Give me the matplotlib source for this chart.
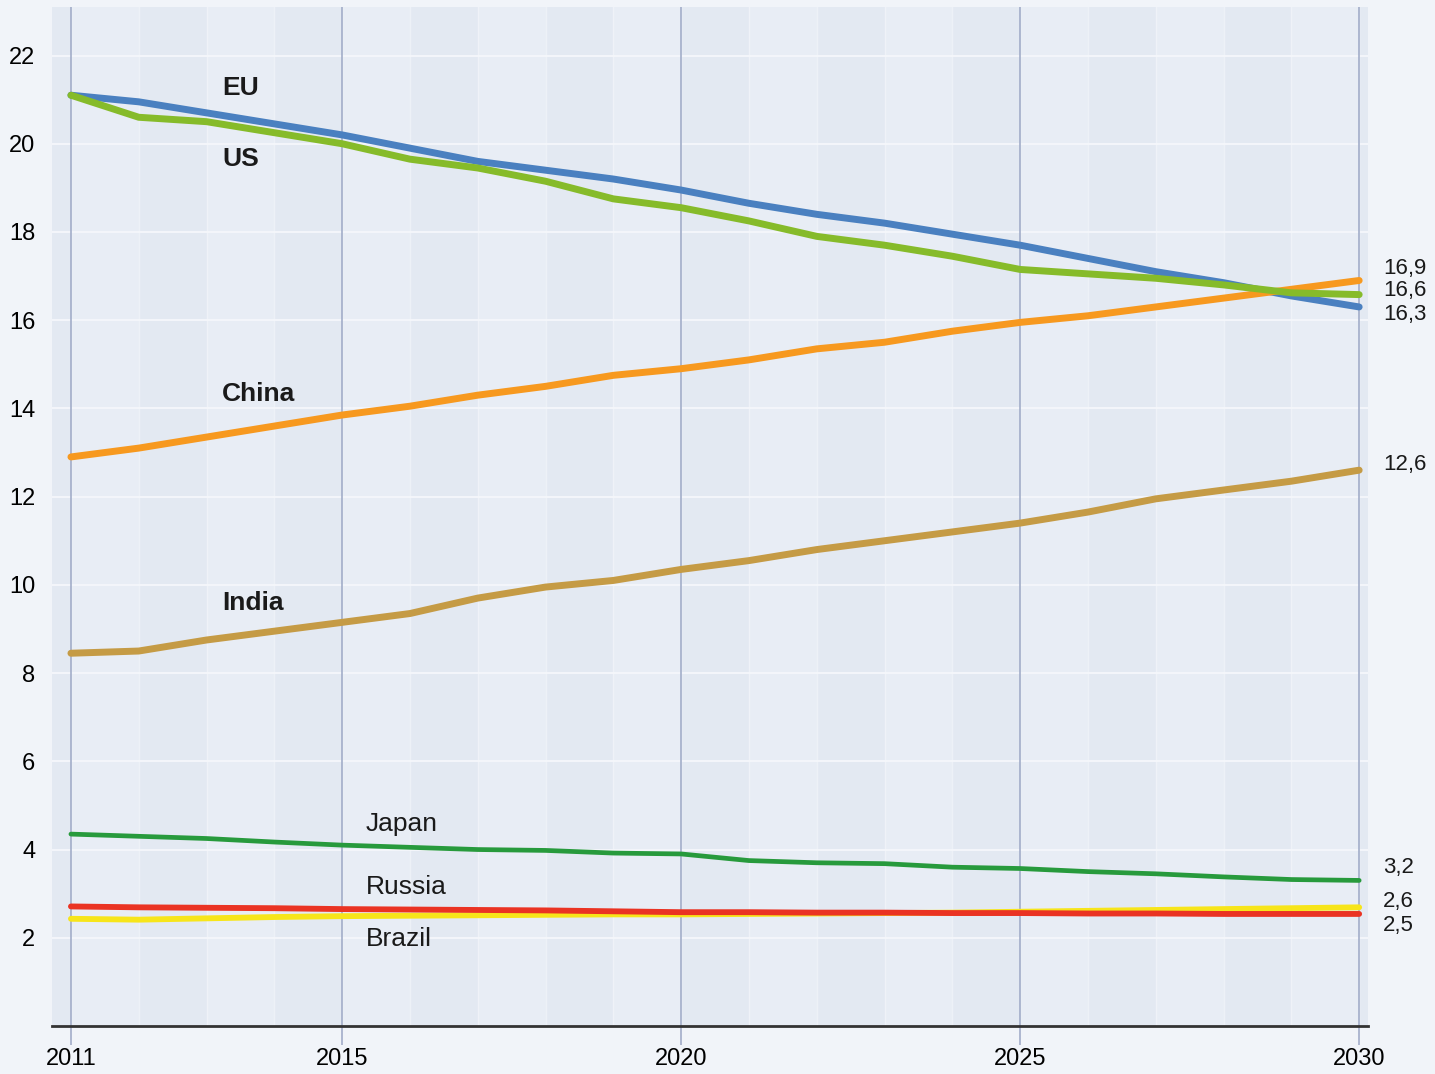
import numpy as np
import matplotlib.pyplot as plt

# Data
years = list(range(2011, 2031))
eu = [21.1, 20.95, 20.7, 20.45, 20.2, 19.9, 19.6, 19.4, 19.2, 18.95,
      18.65, 18.4, 18.2, 17.95, 17.7, 17.4, 17.1, 16.85, 16.55, 16.3]
us = [21.1, 20.6, 20.5, 20.25, 20.0, 19.65, 19.45, 19.15, 18.75, 18.55,
      18.25, 17.9, 17.7, 17.45, 17.15, 17.05, 16.95, 16.8, 16.62, 16.58]
china = [12.9, 13.1, 13.35, 13.6, 13.85, 14.05, 14.3, 14.5, 14.75, 14.9,
         15.1, 15.35, 15.5, 15.75, 15.95, 16.1, 16.3, 16.5, 16.7, 16.9]
india = [8.45, 8.5, 8.75, 8.95, 9.15, 9.35, 9.7, 9.95, 10.1, 10.35,
         10.55, 10.8, 11.0, 11.2, 11.4, 11.65, 11.95, 12.15, 12.35, 12.6]
japan = [4.35, 4.3, 4.25, 4.17, 4.1, 4.05, 4.0, 3.98, 3.92, 3.9,
         3.75, 3.7, 3.68, 3.6, 3.57, 3.5, 3.45, 3.38, 3.32, 3.3]
russia = [2.71, 2.69, 2.68, 2.67, 2.65, 2.64, 2.63, 2.62, 2.6, 2.58,
          2.58, 2.57, 2.57, 2.56, 2.56, 2.55, 2.55, 2.54, 2.54, 2.54]
brazil = [2.43, 2.41, 2.44, 2.47, 2.49, 2.5, 2.51, 2.52, 2.53, 2.53,
          2.54, 2.55, 2.56, 2.57, 2.59, 2.61, 2.63, 2.65, 2.67, 2.69]

end_labels = ['16,9', '16,6', '16,3', '12,6', '3,2', '2,6', '2,5']
end_label_y = [17.17, 16.67, 16.14, 12.72, 3.6, 2.83, 2.27]

xticks = [2011, 2015, 2020, 2025, 2030]
yticks = [2, 4, 6, 8, 10, 12, 14, 16, 18, 20, 22]

plt.rcParams['font.family'] = ['Liberation Sans', 'DejaVu Sans']

fig = plt.figure(figsize=(14.35, 10.74), dpi=100, facecolor='#f1f4f9')
ax = fig.add_axes([0.0362, 0.0447, 0.9171, 0.9488])
ax.set_facecolor('#e8edf5')

x0, x1 = 2010.72, 2030.13
ax.set_xlim(x0, x1)
ax.set_ylim(0, 23.1)

# alternating year bands, faint white grid
for i, yr in enumerate(range(2010, 2031)):
    if i % 2 == 0:
        ax.axvspan(yr, yr + 1, color='#e3e9f2', lw=0, zorder=0)
for yr in range(2011, 2031):
    ax.axvline(yr, color='#f2f5fa', lw=1.0, alpha=0.7, zorder=0.5)
for v in yticks:
    ax.axhline(v, color='#f5f7fb', lw=1.5, alpha=0.9, zorder=0.5)
for v in xticks:
    ax.axvline(v, color='#9ba7c5', lw=1.1, zorder=1)

lw = 5
ax.plot(years, eu, color='#4a80c0', lw=lw, zorder=3, solid_capstyle='round')
ax.plot(years, us, color='#86bb2a', lw=lw, zorder=3.5, solid_capstyle='round')
ax.plot(years, china, color='#f7991f', lw=lw, zorder=3, solid_capstyle='round')
ax.plot(years, india, color='#c59b45', lw=lw, zorder=3, solid_capstyle='round')
ax.plot(years, japan, color='#279a3c', lw=3.4, zorder=3, solid_capstyle='round')
ax.plot(years, brazil, color='#f7e51a', lw=4.2, zorder=3, solid_capstyle='round')
ax.plot(years, russia, color='#ea3323', lw=4.2, zorder=3.2, solid_capstyle='round')

bold = dict(fontsize=19, fontweight='bold', color='#1a1a1a', va='center', ha='left')
ax.text(2013.23, 21.27, 'EU', **bold)
ax.text(2013.23, 19.66, 'US', **bold)
ax.text(2013.23, 14.33, 'China', **bold)
ax.text(2013.23, 9.6, 'India', **bold)
norm = dict(fontsize=19, color='#1a1a1a', va='center', ha='left')
ax.text(2015.35, 4.58, 'Japan', **norm)
ax.text(2015.35, 3.15, 'Russia', **norm)
ax.text(2015.35, 1.97, 'Brazil', **norm)

for lab, yv in zip(end_labels, end_label_y):
    ax.text(2030.35, yv, lab, fontsize=16, color='#1a1a1a', va='center',
            ha='left', clip_on=False)

for s in ['left', 'right', 'top']:
    ax.spines[s].set_visible(False)
ax.spines['bottom'].set_color('#333333')
ax.spines['bottom'].set_linewidth(2)

ax.set_xticks(xticks)
ax.set_xticklabels([str(v) for v in xticks], fontsize=17)
ax.tick_params(axis='x', length=14, width=1.1, color='#9ba7c5', pad=2)
ax.set_yticks(yticks)
ax.set_yticklabels([str(v) for v in yticks], fontsize=17)
ax.tick_params(axis='y', length=0, pad=12)

fig.savefig('out.png', dpi=100, facecolor=fig.get_facecolor())
